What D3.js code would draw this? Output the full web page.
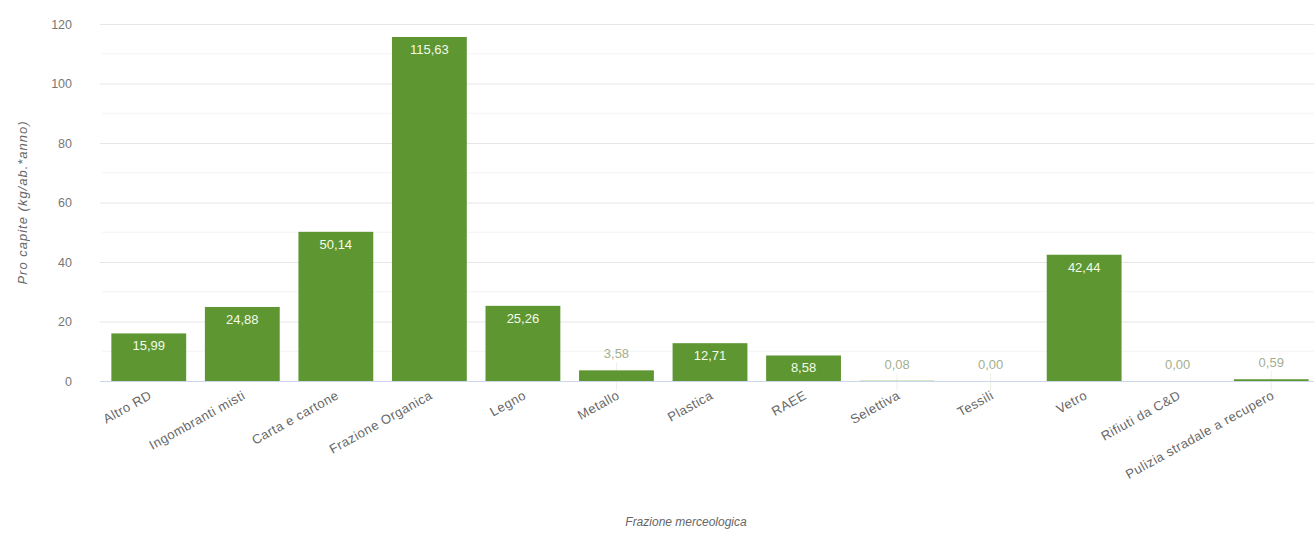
<!DOCTYPE html>
<html>
<head>
<meta charset="utf-8">
<script src="https://cdn.jsdelivr.net/npm/d3@7"></script>
<style>
  body { margin: 0; background: #fff; }
  svg { font-family: "Liberation Sans", Arial, sans-serif; }
</style>
</head>
<body>
<div id="chart"></div>
<script>
// data
const categories = ["Altro RD", "Ingombranti misti", "Carta e cartone", "Frazione Organica",
  "Legno", "Metallo", "Plastica", "RAEE", "Selettiva", "Tessili", "Vetro",
  "Rifiuti da C&D", "Pulizia stradale a recupero"];
const values = [15.99, 24.88, 50.14, 115.63, 25.26, 3.58, 12.71, 8.58, 0.08, 0.00, 42.44, 0.00, 0.59];
const yTicks = [0, 20, 40, 60, 80, 100, 120];

const width = 1314, height = 543;
const margin = {left: 102, right: -4, top: 24, bottom: 162};

const fmt = v => v.toFixed(2).replace(".", ",");
const inside = d => (y(0) - y(d) > 20);

let svg = d3.select("#chart")
  .append("svg")
  .attr("width", width)
  .attr("height", height);

let x = d3.scaleBand()
  .domain(d3.range(categories.length))
  .range([margin.left, width - margin.right])
  .paddingInner(0.2)
  .paddingOuter(0.1);

let y = d3.scaleLinear()
  .domain([0, 120])
  .range([height - margin.bottom, margin.top]);

// minor grid
svg.append("g")
  .selectAll("line")
  .data(d3.range(10, 120, 20))
  .enter()
  .append("line")
    .attr("x1", margin.left).attr("x2", width)
    .attr("y1", d => y(d)).attr("y2", d => y(d))
    .attr("stroke", "#f3f3f3");

// major grid + y labels
let yAxis = svg.append("g")
  .attr("transform", `translate(${margin.left - 2},0)`)
  .call(d3.axisLeft(y).tickValues(yTicks).tickSize(-(width - margin.left + 2)).tickPadding(28));
yAxis.select(".domain").remove();
yAxis.selectAll(".tick line").attr("stroke", "#e6e6e6");
yAxis.selectAll(".tick text")
  .attr("fill", "#777777")
  .attr("font-size", "12.5px");

// faint connector lines under the small-value labels
svg.selectAll("line.conn")
  .data(values.filter(d => !inside(d)).map(d => values.indexOf(d)))
  .enter()
  .append("line")
    .attr("x1", i => x(i) + x.bandwidth() / 2)
    .attr("x2", i => x(i) + x.bandwidth() / 2)
    .attr("y1", i => y(values[i]) - 8)
    .attr("y2", y(0) + 10)
    .attr("stroke", "#eef0e8");

// bars
svg.selectAll("rect.bar")
  .data(values)
  .enter()
  .append("rect")
    .attr("class", "bar")
    .attr("x", (d, i) => x(i))
    .attr("width", x.bandwidth())
    .attr("y", d => y(d))
    .attr("height", d => y(0) - y(d))
    .attr("fill", "#5e9632");

// x axis line
svg.append("line")
  .attr("x1", margin.left - 2).attr("x2", width)
  .attr("y1", y(0) + 0.5).attr("y2", y(0) + 0.5)
  .attr("stroke", "#ccd6eb");

// value labels
svg.selectAll("text.val")
  .data(values)
  .enter()
  .append("text")
    .attr("class", "val")
    .attr("x", (d, i) => x(i) + x.bandwidth() / 2)
    .attr("y", d => inside(d) ? y(d) + 17 : y(d) - 12)
    .attr("text-anchor", "middle")
    .attr("font-size", "13px")
    .attr("fill", d => inside(d) ? "#f4fbe8" : "#a3b090")
    .text(d => fmt(d));

// category labels
svg.selectAll("text.cat")
  .data(categories)
  .enter()
  .append("text")
    .attr("class", "cat")
    .attr("transform", (d, i) => `translate(${x(i) + x.bandwidth() / 2 + 4},${y(0) + 17}) rotate(-29)`)
    .attr("text-anchor", "end")
    .attr("font-size", "13px")
    .attr("letter-spacing", "0.5px")
    .attr("fill", "#666666")
    .text(d => d);

// axis titles
svg.append("text")
  .attr("transform", `translate(27,${(y(0) + y(120)) / 2}) rotate(-90)`)
  .attr("text-anchor", "middle")
  .attr("font-size", "13px")
  .attr("letter-spacing", "1px")
  .attr("font-style", "italic")
  .attr("fill", "#666666")
  .text("Pro capite (kg/ab.*anno)");

svg.append("text")
  .attr("x", 686)
  .attr("y", 526)
  .attr("text-anchor", "middle")
  .attr("font-size", "12px")
  .attr("font-style", "italic")
  .attr("fill", "#666666")
  .text("Frazione merceologica");
</script>
</body>
</html>
